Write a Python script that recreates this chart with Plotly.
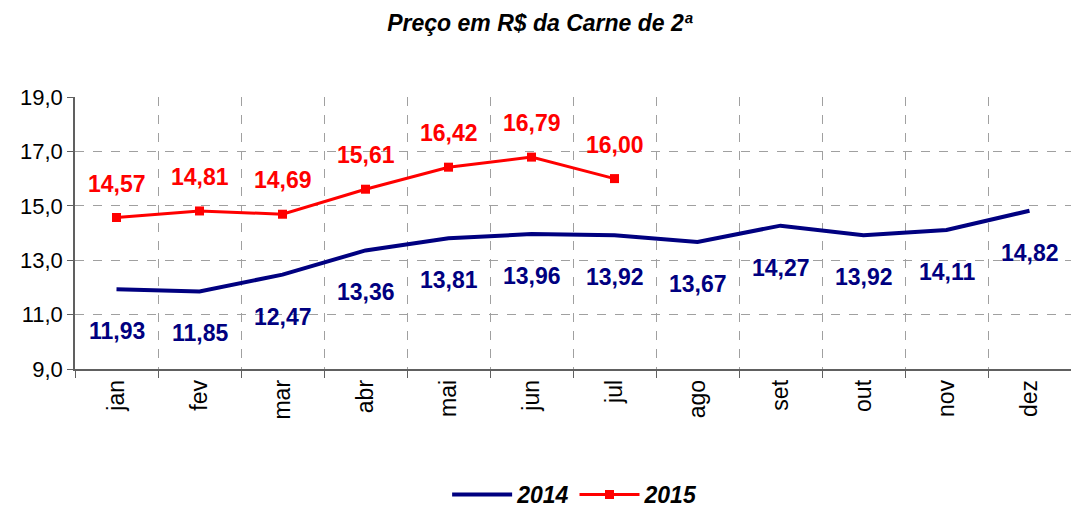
import plotly.graph_objects as go

months = ["jan", "fev", "mar", "abr", "mai", "jun", "jul", "ago", "set", "out", "nov", "dez"]
values_2014 = [11.93, 11.85, 12.47, 13.36, 13.81, 13.96, 13.92, 13.67, 14.27, 13.92, 14.11, 14.82]
values_2015 = [14.57, 14.81, 14.69, 15.61, 16.42, 16.79, 16.00]
y_ticks = [9, 11, 13, 15, 17, 19]

FONT = "Liberation Sans, Arial, sans-serif"
NAVY = "#000080"
RED = "#FF0000"

fig = go.Figure()
fig.add_trace(go.Scatter(x=months, y=values_2014, mode="lines", name="2014",
                         line=dict(color=NAVY, width=4)))
fig.add_trace(go.Scatter(x=months[:len(values_2015)], y=values_2015, mode="lines+markers", name="2015",
                         line=dict(color=RED, width=3),
                         marker=dict(symbol="square", size=9, color=RED)))

def fmt(v):
    return f"{v:.2f}".replace(".", ",")

for m, v in zip(months, values_2014):
    fig.add_annotation(x=m, y=v, text=fmt(v), showarrow=False, yshift=-42,
                       font=dict(family=FONT, size=23, color=NAVY, weight="bold"))
for m, v in zip(months, values_2015):
    fig.add_annotation(x=m, y=v, text=fmt(v), showarrow=False, yshift=34,
                       font=dict(family=FONT, size=23, color=RED, weight="bold"))

fig.update_layout(
    width=1071, height=516,
    margin=dict(l=75, r=0, t=97, b=147),
    paper_bgcolor="white", plot_bgcolor="white",
    separators=",.",
    font=dict(family=FONT, size=22, color="black"),
    title=dict(text="<b><i>Preço em R$ da Carne de 2ª</i></b>", x=0.504, xref="container",
               y=0.955, yref="container", yanchor="middle",
               font=dict(family=FONT, size=23, color="black")),
    showlegend=True,
    legend=dict(orientation="h", x=0.537, xref="container", xanchor="center",
                y=0.0, yref="container", yanchor="bottom",
                font=dict(family=FONT, size=23, color="black", weight="bold", style="italic"),
                itemwidth=60),
)
fig.update_xaxes(type="category", tickson="boundaries", range=[-0.5, 11.5], automargin=False,
                 showgrid=True, gridcolor="#A0A0A0", griddash="dash", gridwidth=1,
                 showline=True, linecolor="#606060", linewidth=1.5,
                 ticks="outside", ticklen=7, tickcolor="#606060", tickangle=-90,
                 tickfont=dict(family=FONT, size=23, color="black"))
fig.update_yaxes(range=[9, 19], tickvals=y_ticks, tickformat=".1f", automargin=False,
                 showgrid=True, gridcolor="#A0A0A0", griddash="dash", gridwidth=1,
                 showline=True, linecolor="#606060", linewidth=1.5,
                 ticks="outside", ticklen=6, tickcolor="#606060", zeroline=False,
                 tickfont=dict(family=FONT, size=22, color="black"))

fig.write_html("out.html", config={"displayModeBar": False},
               post_script="document.body.style.margin='0';")
